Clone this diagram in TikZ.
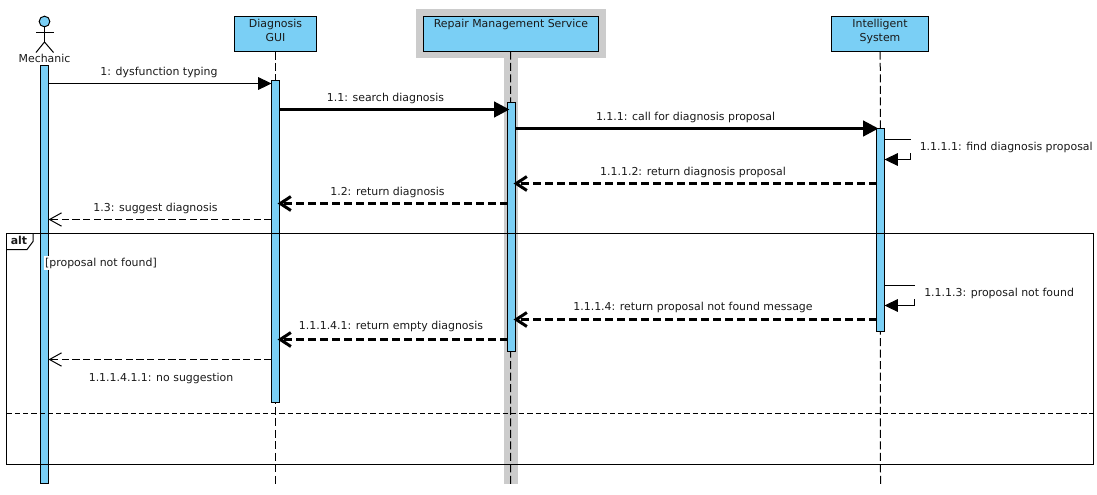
\documentclass[tikz,border=0pt]{standalone}
\usepackage{fontspec}
\setmainfont{DejaVu Sans}
\usetikzlibrary{arrows.meta}
\definecolor{umlblue}{HTML}{7ACFF5}
\definecolor{umlgray}{HTML}{CCCCCC}
\definecolor{umltext}{HTML}{1A1A1A}
\tikzset{
  x=0.75pt,y=-0.75pt,
  txt/.style={font=\fontsize{8.2pt}{10.5pt}\selectfont,text=umltext,inner sep=0pt,anchor=base},
  part/.style={draw=black,line width=0.75pt,fill=umlblue,inner sep=0pt,outer sep=0pt,minimum height=26.25pt,
    anchor=north west},
  activ/.style={draw=black,line width=0.75pt,fill=umlblue,inner sep=0pt,outer sep=0pt,minimum width=6pt,anchor=north},
  life/.style={draw=black,line width=0.75pt,dash pattern=on 6pt off 2.6pt},
  syncthin/.style={draw=black,line width=0.75pt,-{Triangle[length=10pt,width=9.5pt]}},
  syncthick/.style={draw=black,line width=2.25pt,shorten >=-1.5pt,-{Triangle[length=11.5pt,width=11.5pt]}},
  retthin/.style={draw=black,line width=0.75pt,dash pattern=on 5.5pt off 2.5pt,-{Straight Barb[length=9pt,width=10pt]}},
  retthick/.style={draw=black,line width=2.25pt,dash pattern=on 6pt off 3pt,shorten >=-1.5pt,-{Straight Barb[length=8pt,width=10.5pt]}},
  selfline/.style={draw=black,line width=0.75pt},
  frameline/.style={draw=black,line width=0.75pt},
}
\begin{document}
\begin{tikzpicture}
\useasboundingbox (0,0) rectangle (1097,494);
\fill[white] (0,0) rectangle (1097,494);
% coordinates of message rows
\coordinate (r1) at (0,83.5);
\coordinate (r2) at (0,109.5);
\coordinate (r3) at (0,128.5);
\coordinate (r4a) at (0,139.5);
\coordinate (r4b) at (0,159.5);
\coordinate (r5) at (0,183.5);
\coordinate (r6) at (0,203.5);
\coordinate (r7) at (0,219.5);
\coordinate (r8a) at (0,285.5);
\coordinate (r8b) at (0,305.5);
\coordinate (r9) at (0,319.5);
\coordinate (r10) at (0,339.5);
\coordinate (r11) at (0,359.5);
% gray highlight of the service
\fill[umlgray] (416,9) rectangle (606,58);
\fill[umlgray] (504,58) rectangle (518,484);
% lifelines
\coordinate (endG) at (275.5,484);
\coordinate (endR) at (510.5,484);
\coordinate (endI) at (880.5,484);
% participants
\node[part,minimum width=61.5pt] (gui) at (234.5,16.5) {};
\node[part,minimum width=131.6pt] (rms) at (423,16.5) {};
\node[part,minimum width=73.1pt] (isys) at (831.5,16.5) {};
\node[txt] (guiA) at (275.5,27) {Diagnosis};
\node[txt] (guiB) at (275.5,41) {GUI};
\node[txt] (rmsA) at (511,27) {Repair Management Service};
\node[txt] (isA) at (880,27) {Intelligent};
\node[txt] (isB) at (880,41) {System};
\draw[life] (gui.south) -- (endG);
\draw[life] (rms.south) -- (endR);
\draw[life] (isys.south) -- (endI);
% actor
\node[draw=black,line width=0.75pt,fill=umlblue,circle,minimum size=8pt,inner sep=0pt,outer sep=0pt] (head) at (44.5,21.5) {};
\coordinate (hip) at (44.5,42);
\coordinate (armL) at (36,32.5);
\coordinate (armR) at (53.5,32.5);
\coordinate (legL) at (36,52.5);
\coordinate (legR) at (53.5,52.5);
\draw[selfline] (head.south) -- (hip);
\draw[selfline] (armL) -- (armR);
\draw[selfline] (legL) -- (hip) -- (legR);
\node[txt] (mechT) at (44.5,62) {Mechanic};
% activations
\node[activ,minimum height=313.5pt] (actM) at (44.5,65.5) {};
\node[activ,minimum height=241.5pt] (actG) at (275.5,80.5) {};
\node[activ,minimum height=186.75pt] (actR) at (511.5,102.5) {};
\node[activ,minimum height=152.25pt] (actI) at (880.5,128) {};
% alt frame
\draw[frameline] (6.5,233.5) rectangle (1093.5,464.5);
\coordinate (tabA) at (33,233.5);
\coordinate (tabB) at (33,241.5);
\coordinate (tabC) at (27,249.5);
\coordinate (tabD) at (6.5,249.5);
\draw[frameline] (tabA) -- (tabB) -- (tabC) -- (tabD);
\node[txt,font=\fontsize{8.2pt}{10pt}\selectfont\bfseries] (altT) at (19,244) {alt};
\coordinate (sepL) at (6.5,413.5);
\coordinate (sepR) at (1093.5,413.5);
\draw[draw=black,line width=0.75pt,dash pattern=on 4pt off 2.2pt] (sepL) -- (sepR);
\node[txt,anchor=base west,fill=white,inner xsep=1pt,inner ysep=1.5pt] (guard) at (43.5,266) {[proposal not found]};
% messages
\draw[syncthin] (actM.east |- r1) -- (actG.west |- r1);
\node[txt] (l1) at (159,75.5) {1: dysfunction typing};
\draw[syncthick] (actG.east |- r2) -- (actR.west |- r2);
\node[txt] (l2) at (385.5,101) {1.1: search diagnosis};
\draw[syncthick] (actR.east |- r3) -- (actI.west |- r3);
\node[txt] (l3) at (685.5,120) {1.1.1: call for diagnosis proposal};
% self 1.1.1.1
\coordinate (s1a) at (910.5,139.5);
\coordinate (s1b) at (910.5,153);
\coordinate (s1c) at (910.5,159.5);
\draw[selfline] (actI.east |- r4a) -- (s1a);
\draw[selfline,-{Triangle[length=10pt,width=9.5pt]}] (s1b) -- (s1c) -- (actI.east |- r4b);
\node[txt,anchor=base west] (l4) at (919.5,150) {1.1.1.1: find diagnosis proposal};
\draw[retthick] (actI.west |- r5) -- (actR.east |- r5);
\node[txt] (l5) at (693,175) {1.1.1.2: return diagnosis proposal};
\draw[retthick] (actR.west |- r6) -- (actG.east |- r6);
\node[txt] (l6) at (387.5,195) {1.2: return diagnosis};
\draw[retthin] (actG.west |- r7) -- (actM.east |- r7);
\node[txt] (l7) at (155.5,211) {1.3: suggest diagnosis};
% self 1.1.1.3
\coordinate (s2a) at (914.5,285.5);
\coordinate (s2b) at (914.5,299);
\coordinate (s2c) at (914.5,305.5);
\draw[selfline] (actI.east |- r8a) -- (s2a);
\draw[selfline,-{Triangle[length=10pt,width=9.5pt]}] (s2b) -- (s2c) -- (actI.east |- r8b);
\node[txt,anchor=base west] (l8) at (924,296) {1.1.1.3: proposal not found};
\draw[retthick] (actI.west |- r9) -- (actR.east |- r9);
\node[txt] (l9) at (693,310) {1.1.1.4: return proposal not found message};
\draw[retthick] (actR.west |- r10) -- (actG.east |- r10);
\node[txt] (l10) at (391,329) {1.1.1.4.1: return empty diagnosis};
\draw[retthin] (actG.west |- r11) -- (actM.east |- r11);
\node[txt] (l11) at (161,381) {1.1.1.4.1.1: no suggestion};
\end{tikzpicture}
\end{document}
